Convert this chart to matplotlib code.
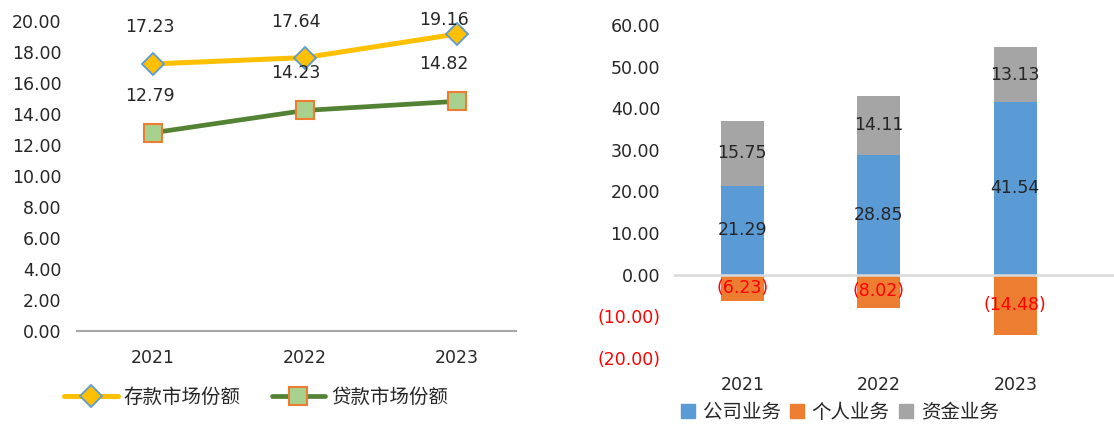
import matplotlib
matplotlib.use("Agg")
import matplotlib.pyplot as plt
from matplotlib.ticker import FuncFormatter
from matplotlib.patches import Patch
from matplotlib.lines import Line2D

plt.rcParams['font.family'] = ['DejaVu Sans', 'Noto Sans CJK SC']

years = ['2021', '2022', '2023']
deposit_share = [17.23, 17.64, 19.16]
loan_share = [12.79, 14.23, 14.82]
corporate = [21.29, 28.85, 41.54]
personal = [-6.23, -8.02, -14.48]
treasury = [15.75, 14.11, 13.13]
line_names = ['存款市场份额', '贷款市场份额']
bar_names = ['公司业务', '个人业务', '资金业务']

W, H = 1114, 424
fig = plt.figure(figsize=(W / 100, H / 100), dpi=100)
TXT = '#262626'

def box(x0, y0, x1, y1):
    return [x0 / W, (H - y1) / H, (x1 - x0) / W, (y1 - y0) / H]

# ---------- left line chart ----------
ax1 = fig.add_axes(box(77, 21, 516, 331))
x = list(range(len(years)))
ax1.plot(x, deposit_share, color='#FFC000', lw=3.6, marker='D', ms=11,
         mfc='#FFC000', mec='#5B9BD5', mew=1.3, solid_capstyle='round', zorder=3)
ax1.plot(x, loan_share, color='#548235', lw=3.4, marker='s', ms=13,
         mfc='#A9D18E', mec='#ED7D31', mew=1.5, solid_capstyle='round', zorder=3)
ax1.set_xlim(-0.5, 2.388)
ax1.set_ylim(0, 20)
ax1.set_yticks([0, 2, 4, 6, 8, 10, 12, 14, 16, 18, 20])
ax1.yaxis.set_major_formatter(FuncFormatter(lambda v, p: f'{v:.2f}'))
ax1.set_xticks(x)
ax1.set_xticklabels(years)
ax1.tick_params(axis='y', length=0, pad=11, labelsize=12.5, colors=TXT)
ax1.tick_params(axis='x', length=0, pad=13, labelsize=12.5, colors=TXT)
for s in ['top', 'right', 'left']:
    ax1.spines[s].set_visible(False)
ax1.spines['bottom'].set_color('#A6A6A6')
ax1.spines['bottom'].set_linewidth(1.5)

dep_off = [(-3, 37), (-9, 36), (-13, 14)]
loan_off = [(-3, 37), (-9, 37), (-13, 37)]
for i, v in enumerate(deposit_share):
    ax1.annotate(f'{v:.2f}', (i, v), xytext=(dep_off[i][0] * 0.72, dep_off[i][1] * 0.72),
                 textcoords='offset points', ha='center', va='center',
                 fontsize=12.5, color=TXT, annotation_clip=False)
for i, v in enumerate(loan_share):
    ax1.annotate(f'{v:.2f}', (i, v), xytext=(loan_off[i][0] * 0.72, loan_off[i][1] * 0.72),
                 textcoords='offset points', ha='center', va='center',
                 fontsize=12.5, color=TXT, annotation_clip=False)

h1 = [Line2D([], [], color='#FFC000', lw=3.6, marker='D', ms=11, mfc='#FFC000',
             mec='#5B9BD5', mew=1.3, solid_capstyle='round'),
      Line2D([], [], color='#548235', lw=3.4, marker='s', ms=13, mfc='#A9D18E',
             mec='#ED7D31', mew=1.5, solid_capstyle='round')]
fig.legend(h1, line_names, loc='center', bbox_to_anchor=(256 / W, (H - 397) / H),
           ncol=2, frameon=False, fontsize=14, handlelength=2.75, handletextpad=0.3,
           columnspacing=1.6, labelcolor=TXT, borderaxespad=0, borderpad=0)

# ---------- right stacked bar chart ----------
ax2 = fig.add_axes(box(674, 25, 1114, 358))
bw = 0.315
ax2.bar(x, corporate, width=bw, color='#5B9BD5', zorder=2)
ax2.bar(x, treasury, width=bw, bottom=corporate, color='#A5A5A5', zorder=2)
ax2.bar(x, personal, width=bw, color='#ED7D31', zorder=2)
ax2.axhline(0, color='#D9D9D9', lw=1.8, zorder=3)
ax2.set_xlim(-0.5, 2.723)
ax2.set_ylim(-20, 60)
ax2.set_yticks([-20, -10, 0, 10, 20, 30, 40, 50, 60])

def fmt(v, p):
    return f'({abs(v):.2f})' if v < 0 else f'{v:.2f}'
ax2.yaxis.set_major_formatter(FuncFormatter(fmt))
ax2.set_xticks(x)
ax2.set_xticklabels(years)
ax2.tick_params(axis='y', length=0, pad=10, labelsize=12.5, colors=TXT)
ax2.tick_params(axis='x', length=0, pad=13, labelsize=12.5, colors=TXT)
for s in ax2.spines.values():
    s.set_visible(False)
fig.canvas.draw()
for lab, val in zip(ax2.get_yticklabels(), ax2.get_yticks()):
    if val < 0:
        lab.set_color('#FF0000')

for i in x:
    ax2.text(i, corporate[i] / 2, f'{corporate[i]:.2f}', ha='center', va='center',
             fontsize=12.5, color=TXT, zorder=4)
    ax2.text(i, corporate[i] + treasury[i] / 2, f'{treasury[i]:.2f}', ha='center',
             va='center', fontsize=12.5, color=TXT, zorder=4)
    ax2.text(i, personal[i] / 2, f'({abs(personal[i]):.2f})', ha='center', va='center',
             fontsize=12.5, color='#FF0000', zorder=4)

h2 = [Patch(color='#5B9BD5'), Patch(color='#ED7D31'), Patch(color='#A5A5A5')]
fig.legend(h2, bar_names, loc='center', bbox_to_anchor=(840 / W, (H - 412) / H),
           ncol=3, frameon=False, fontsize=14, handlelength=0.7, handleheight=0.7,
           handletextpad=0.4, columnspacing=0.5, labelcolor=TXT, borderaxespad=0,
           borderpad=0)

fig.savefig('out.png', dpi=100)
